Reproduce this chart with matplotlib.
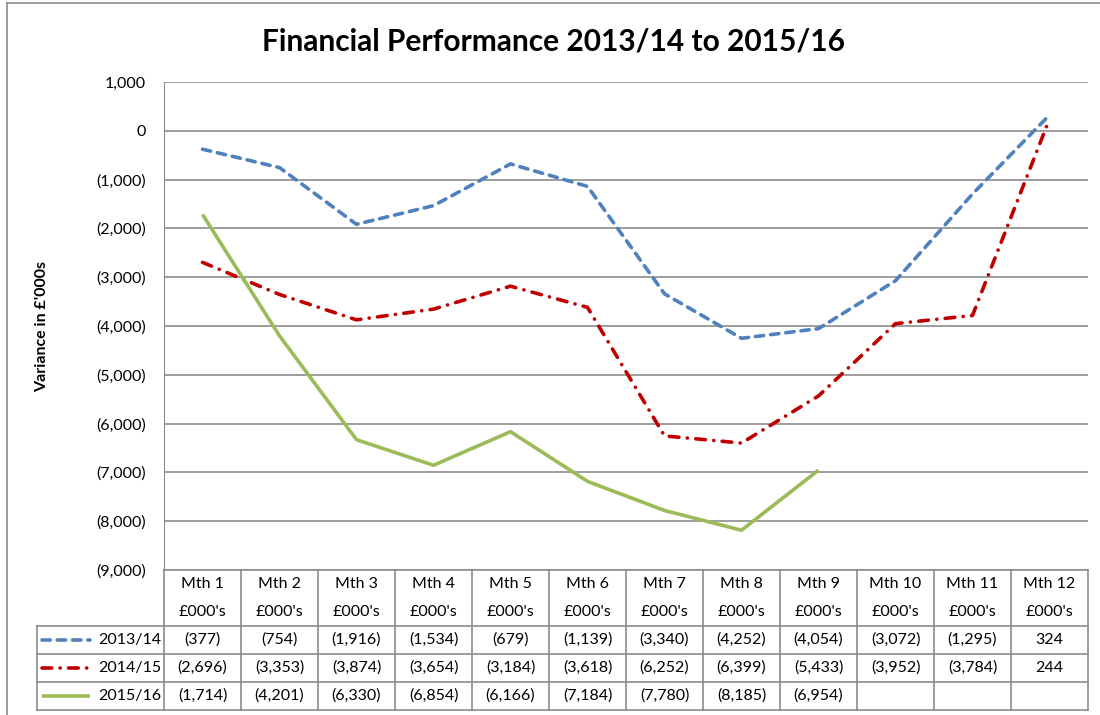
import numpy as np
import matplotlib
matplotlib.use("Agg")
import matplotlib.pyplot as plt
from matplotlib.lines import Line2D

plt.rcParams['font.family'] = ['Lato', 'DejaVu Sans']
plt.rcParams['lines.scale_dashes'] = False

months = ['Mth 1', 'Mth 2', 'Mth 3', 'Mth 4', 'Mth 5', 'Mth 6',
          'Mth 7', 'Mth 8', 'Mth 9', 'Mth 10', 'Mth 11', 'Mth 12']
unit_label = "£000's"
series_names = ['2013/14', '2014/15', '2015/16']
fy1314 = [-377, -754, -1916, -1534, -679, -1139, -3340, -4252, -4054, -3072, -1295, 324]
fy1415 = [-2696, -3353, -3874, -3654, -3184, -3618, -6252, -6399, -5433, -3952, -3784, 244]
fy1516 = [-1714, -4201, -6330, -6854, -6166, -7184, -7780, -8185, -6954, np.nan, np.nan, np.nan]
colors = ['#4F81BD', '#C00000', '#9BBB59']


def fmt(v):
    if np.isnan(v):
        return ''
    if v < 0:
        return '({:,.0f})'.format(-v)
    return '{:,.0f}'.format(v)


W, H = 1100, 715
fig = plt.figure(figsize=(11, 7.15), dpi=100)

# plot area in pixels
pl, pr, pt, pb = 164, 1088, 82, 570
ax = fig.add_axes([pl / W, 1 - pb / H, (pr - pl) / W, (pb - pt) / H])

x = np.arange(1, 13)
styles = [
    dict(linestyle=(0, (6, 5)), dash_capstyle='round'),
    dict(linestyle=(0, (7, 6, 0.1, 6)), dash_capstyle='round'),
    dict(linestyle='-', solid_capstyle='butt'),
]
data = [fy1314, fy1415, fy1516]
for vals, c, st in zip(data, colors, styles):
    ax.plot(x, vals, color=c, lw=2.6, **st, zorder=3)

ax.set_xlim(0.5, 12.5)
ax.set_ylim(-9000, 1000)
ax.set_yticks(np.arange(-9000, 1001, 1000))
ax.set_yticklabels([fmt(float(v)) for v in np.arange(-9000, 1001, 1000)])
ax.set_xticks([])
ax.grid(axis='y', color='#8c8c8c', lw=1.2)
for s in ['top', 'right', 'bottom']:
    ax.spines[s].set_visible(False)
ax.spines['left'].set_color('#8c8c8c')
ax.tick_params(axis='y', length=0, labelsize=11.5, pad=13)

fig.text(42 / W, 1 - 326 / H, "Variance in £'000s", rotation=90,
         ha='center', va='center', fontsize=11.5, fontweight='bold')
fig.text(554 / W, 1 - 42 / H, 'Financial Performance 2013/14 to 2015/16',
         ha='center', va='center', fontsize=21.5, fontweight='bold')

# data table underneath
tl, tb = 37, 710
ax_t = fig.add_axes([tl / W, 1 - tb / H, (pr - tl) / W, (tb - pb) / H])
unit = (pr - pl) / 12
x_left = 0.5 - (pl - tl) / unit
ax_t.set_xlim(x_left, 12.5)
ax_t.set_ylim(5, 0)
ax_t.axis('off')

gc = '#8c8c8c'
for k in range(13):
    ax_t.plot([0.5 + k, 0.5 + k], [0, 5], color=gc, lw=1.2, clip_on=False)
ax_t.plot([0.5, 12.5], [0, 0], color=gc, lw=1.2, clip_on=False)
for r in [2, 3, 4, 5]:
    ax_t.plot([x_left, 12.5], [r, r], color=gc, lw=1.2, clip_on=False)
ax_t.plot([x_left, x_left], [2, 5], color=gc, lw=1.2, clip_on=False)

for i, m in enumerate(months):
    ax_t.text(i + 1, 0.5, m, ha='center', va='center', fontsize=11.5)
    ax_t.text(i + 1, 1.5, unit_label, ha='center', va='center', fontsize=11.5)

key_x0 = (42 - pl) / unit + 0.5
key_x1 = (90 - pl) / unit + 0.5
for r, (name, vals, c, st) in enumerate(zip(series_names, data, colors, styles)):
    y = 2.5 + r
    ax_t.plot([key_x0, key_x1], [y, y], color=c, lw=2.6, **st, clip_on=False)
    ax_t.text(0.46, y, name, ha='right', va='center', fontsize=11.5)
    for i, v in enumerate(vals):
        ax_t.text(i + 1, y, fmt(float(v)), ha='center', va='center', fontsize=11.5)

# chart area border
fig.add_artist(Line2D([7 / W, 7 / W], [0, 1 - 3 / H], transform=fig.transFigure, color='#8c8c8c', lw=1.2))
fig.add_artist(Line2D([7 / W, 1], [1 - 3 / H, 1 - 3 / H], transform=fig.transFigure, color='#8c8c8c', lw=1.2))

fig.savefig('out.png', dpi=100)
